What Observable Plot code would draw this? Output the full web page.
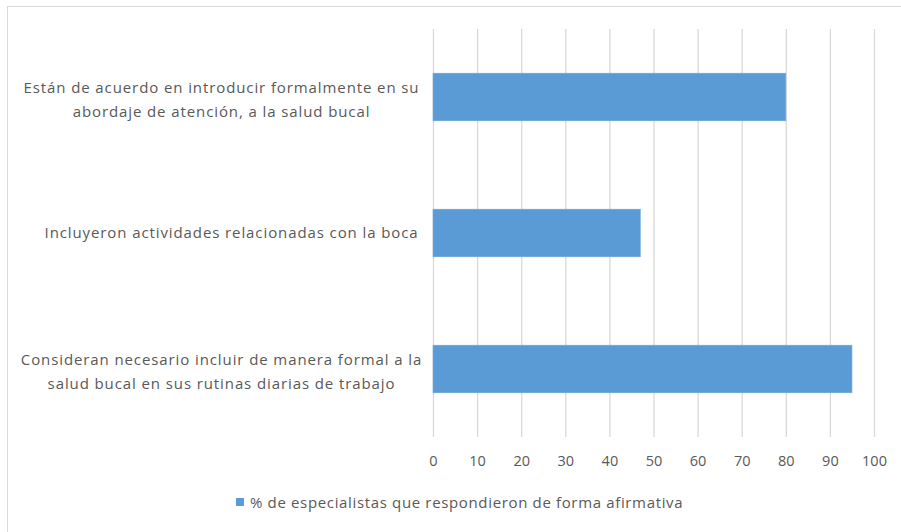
<!DOCTYPE html>
<html>
<head>
<meta charset="utf-8">
<script src="https://cdn.jsdelivr.net/npm/d3@7"></script>
<script src="https://cdn.jsdelivr.net/npm/@observablehq/plot@0.6"></script>
<style>
  html, body { margin: 0; padding: 0; width: 901px; height: 532px; overflow: hidden; background: #fff; }
  #frame { position: absolute; left: 7px; top: 6px; width: 1000px; height: 1000px; border: 1px solid #d9d9d9; box-sizing: border-box; }
  #chart { position: absolute; left: 0; top: 0; }
  #legend { position: absolute; left: 236px; top: 492px; font-family: "Open Sans", sans-serif; font-size: 15px; letter-spacing: 0.65px; color: #595959; display: flex; align-items: center; white-space: nowrap; }
  #legend .sw { width: 8px; height: 8px; background: #5b9bd5; margin-right: 6px; }
  .lbl text { letter-spacing: 0.9px; }
</style>
</head>
<body>
<div id="frame"></div>
<div id="chart"></div>
<div id="legend"><span class="sw"></span><span id="legtext"></span></div>
<script>
const categories = [
  "Están de acuerdo en introducir formalmente en su\nabordaje de atención, a la salud bucal",
  "Incluyeron actividades relacionadas con la boca",
  "Consideran necesario incluir de manera formal a la\nsalud bucal en sus rutinas diarias de trabajo"
];
const values = [80, 47, 95];
const xTicks = [0, 10, 20, 30, 40, 50, 60, 70, 80, 90, 100];
const seriesName = "% de especialistas que respondieron de forma afirmativa";

const data = categories.map((c, i) => ({label: c, value: values[i], multi: c.includes("\n")}));

const chart = Plot.plot({
  width: 901,
  height: 470,
  marginLeft: 433,
  marginRight: 27,
  marginTop: 29,
  marginBottom: 33,
  style: {fontFamily: "'Open Sans', sans-serif", fontSize: "14.5px", color: "#595959", background: "transparent"},
  x: {domain: [0, 100], ticks: xTicks, label: null},
  y: {domain: categories, paddingInner: 0.65, paddingOuter: 0.325, round: false, axis: null},
  marks: [
    Plot.gridX(xTicks, {stroke: "#d9d9d9", strokeOpacity: 1, strokeWidth: 1.3}),
    Plot.axisX(xTicks, {tickSize: 0, tickPadding: 18, fill: "#595959", fontSize: 14.5, label: null}),
    Plot.barX(data, {x: "value", y: "label", fill: "#5b9bd5", stroke: "#6fa8dc", strokeWidth: 0.6}),
    Plot.text(data.filter(d => d.multi), {y: "label", text: "label", frameAnchor: "left", textAnchor: "middle", dx: -212, lineHeight: 1.55, fill: "#595959", fontSize: 15, className: "lbl"}),
    Plot.text(data.filter(d => !d.multi), {y: "label", text: "label", frameAnchor: "left", textAnchor: "end", dx: -15, fill: "#595959", fontSize: 15, className: "lbl"})
  ]
});
document.getElementById("chart").appendChild(chart);
document.getElementById("legtext").textContent = seriesName;
</script>
</body>
</html>
